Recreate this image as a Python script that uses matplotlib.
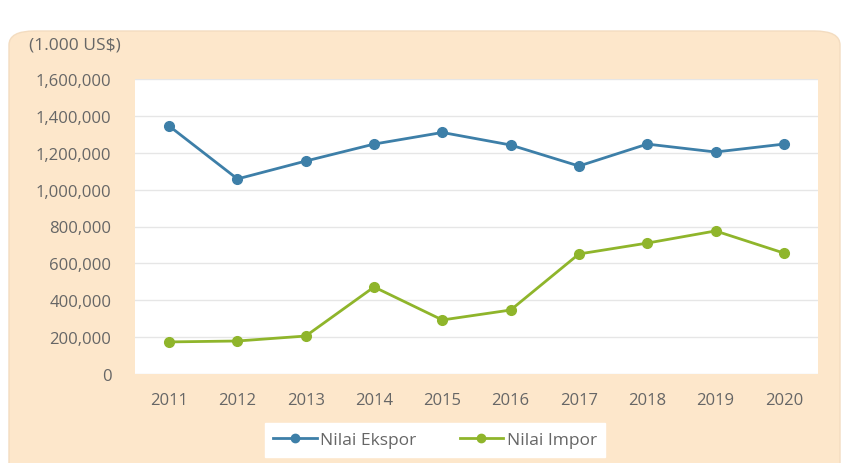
import matplotlib
matplotlib.use("Agg")
import matplotlib.pyplot as plt
from matplotlib.patches import FancyBboxPatch
from matplotlib.ticker import FuncFormatter

years = ["2011", "2012", "2013", "2014", "2015", "2016", "2017", "2018", "2019", "2020"]
ekspor = [1345000, 1058000, 1155000, 1247000, 1310000, 1242000, 1128000, 1247000, 1204000, 1247000]
impor = [174000, 179000, 206000, 472000, 293000, 347000, 651000, 710000, 776000, 656000]

blue = "#3d7fa8"
green = "#8fb52b"
text_col = "#666666"
W, H = 851, 464

plt.rcParams["font.family"] = ["Open Sans", "DejaVu Sans"]

fig = plt.figure(figsize=(W / 100, H / 100), dpi=100)
fig.patch.set_facecolor("white")

# rounded peach panel behind the chart
panel = FancyBboxPatch((9 / W, -20 / H), 831 / W, 452 / H,
                       boxstyle="round,pad=0,rounding_size=0.03",
                       transform=fig.transFigure, facecolor="#fde7cb",
                       edgecolor="#f3dcc0", linewidth=1.0, zorder=-5)
fig.patches.append(panel)

ax = fig.add_axes([135 / W, (H - 375) / H, (818 - 135) / W, (375 - 80) / H])
ax.set_zorder(1)
ax.set_facecolor("white")
x = list(range(len(years)))
ax.plot(x, ekspor, color=blue, lw=2.0, marker="o", ms=7, label="Nilai Ekspor", zorder=3)
ax.plot(x, impor, color=green, lw=2.0, marker="o", ms=7, label="Nilai Impor", zorder=3)

ax.set_xlim(-0.5, 9.5)
ax.set_ylim(0, 1600000)
ax.set_yticks(range(0, 1600001, 200000))
ax.yaxis.set_major_formatter(FuncFormatter(lambda v, p: f"{int(v):,}"))
ax.set_xticks(x)
ax.set_xticklabels(years)
ax.grid(axis="y", color="#e6e6e6", lw=1)
ax.set_axisbelow(True)
for s in ax.spines.values():
    s.set_visible(False)
ax.tick_params(length=0, labelsize=12, colors=text_col)
ax.tick_params(axis="y", pad=17)
ax.tick_params(axis="x", pad=13)

fig.text(29 / W, 1 - 46 / H, "(1.000 US$)", fontsize=12.5, color=text_col, va="center")

leg = fig.legend(loc="center", bbox_to_anchor=(435 / W, 1 - 441 / H), ncol=2,
                 frameon=True, fancybox=False, framealpha=1, fontsize=12.5,
                 handlelength=2.5, columnspacing=2.5, handletextpad=0.2,
                 borderpad=0.5)
leg.get_frame().set_facecolor("white")
leg.get_frame().set_edgecolor("white")
leg.set_zorder(2)
for t in leg.get_texts():
    t.set_color(text_col)
for h in leg.legend_handles:
    h.set_markersize(6)

fig.savefig("out.png", dpi=100)
